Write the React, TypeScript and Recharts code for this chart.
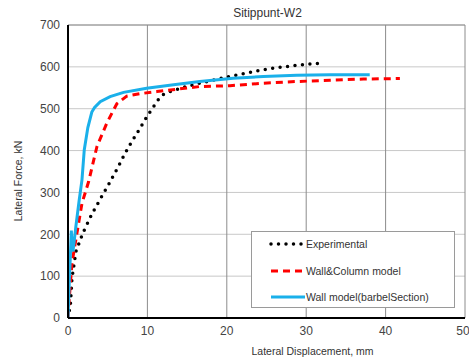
import { LineChart, Line, XAxis, YAxis, CartesianGrid, Label, ReferenceLine } from "recharts";

// displacement (mm) / lateral force (kN)
const experimental = [
  { x: 0, y: 0 }, { x: 0.3, y: 31 }, { x: 0.5, y: 95 }, { x: 1.0, y: 159 },
  { x: 1.9, y: 204 }, { x: 3.0, y: 248 }, { x: 4.3, y: 292 }, { x: 5.15, y: 320 },
  { x: 6.4, y: 364 }, { x: 7.2, y: 394 }, { x: 8.05, y: 422 }, { x: 9.0, y: 451 },
  { x: 9.9, y: 480 }, { x: 10.85, y: 507 }, { x: 11.35, y: 521 }, { x: 12.0, y: 534 },
  { x: 12.9, y: 541 }, { x: 14.75, y: 552 }, { x: 16.6, y: 561 }, { x: 18.5, y: 569 },
  { x: 20.3, y: 577 }, { x: 22.2, y: 584 }, { x: 24.2, y: 592 }, { x: 26.0, y: 597 },
  { x: 28.0, y: 602 }, { x: 30.0, y: 606 }, { x: 31.9, y: 609 },
];

const wallColumn = [
  { x: 0, y: 0 }, { x: 0.08, y: 27 }, { x: 0.5, y: 131 }, { x: 1.13, y: 203 },
  { x: 1.76, y: 274 }, { x: 2.6, y: 326 }, { x: 3.65, y: 410 }, { x: 4.9, y: 466 },
  { x: 6.15, y: 512 }, { x: 7.4, y: 530 }, { x: 9.1, y: 536 }, { x: 11.2, y: 541 },
  { x: 16.6, y: 553 }, { x: 20.4, y: 555 }, { x: 24.6, y: 561 }, { x: 28.8, y: 565 },
  { x: 33.0, y: 568 }, { x: 37.2, y: 571 }, { x: 41.8, y: 572 },
];

const wallBarbel = [
  { x: 0, y: 0 }, { x: 0.15, y: 80 }, { x: 0.3, y: 150 }, { x: 0.42, y: 209 },
  { x: 0.5, y: 175 }, { x: 0.63, y: 159 }, { x: 1.0, y: 220 }, { x: 1.4, y: 280 },
  { x: 1.76, y: 330 }, { x: 2.05, y: 402 }, { x: 2.5, y: 455 }, { x: 3.0, y: 492 },
  { x: 3.35, y: 503 }, { x: 4.06, y: 517 }, { x: 5.3, y: 529 }, { x: 7.0, y: 539 },
  { x: 9.9, y: 549 }, { x: 13.3, y: 557 }, { x: 16.6, y: 565 }, { x: 20.8, y: 573 },
  { x: 24.6, y: 577 }, { x: 28.8, y: 580 }, { x: 33.0, y: 581 }, { x: 38.0, y: 581 },
];

const xTicks = [0, 10, 20, 30, 40, 50];
const yTicks = [0, 100, 200, 300, 400, 500, 600, 700];

const series = [
  { name: "Experimental", data: experimental, color: "#000000", width: 3.5, dash: "0 7.5" },
  { name: "Wall&Column model", data: wallColumn, color: "#FF0000", width: 3, dash: "7 5" },
  { name: "Wall model(barbelSection)", data: wallBarbel, color: "#1AB0EA", width: 3, dash: undefined },
];

const font = "Arial, 'Liberation Sans', sans-serif";
const tick = { fill: "#444", fontSize: 12, fontFamily: font };

function LegendBox() {
  return (
    <div
      style={{
        position: "absolute",
        left: 251,
        top: 231,
        border: "1px solid #9a9a9a",
        background: "#fff",
        width: 204,
        height: 77,
        boxSizing: "border-box",
        fontFamily: font,
        fontSize: 10.5,
        color: "#333",
      }}
    >
      {series.map((s, i) => (
        <div
          key={s.name}
          style={{ position: "absolute", left: 17, top: 5 + i * 26.5, display: "flex", alignItems: "center", height: 14 }}
        >
          <svg width={37} height={8}>
            <line
              x1={2}
              y1={4}
              x2={36}
              y2={4}
              stroke={s.color}
              strokeWidth={s.width}
              strokeDasharray={s.dash}
              strokeLinecap={s.dash === "0 7.5" ? "round" : "butt"}
            />
          </svg>
          <span style={{ whiteSpace: "nowrap" }}>{s.name}</span>
        </div>
      ))}
    </div>
  );
}

export default function App() {
  return (
    <div style={{ position: "absolute", left: 0, top: 0, width: 469, height: 361, background: "#fff" }}>
      <LineChart width={469} height={361} margin={{ top: 25, right: 4, left: 0, bottom: 0 }}>
        <CartesianGrid horizontal={true} vertical={false} stroke="#c8c8c8" strokeWidth={1} />
        <CartesianGrid horizontal={false} vertical={true} stroke="#8c8c8c" strokeWidth={1} />
        <ReferenceLine y={700} stroke="#8c8c8c" strokeWidth={1} />
        <XAxis
          type="number"
          dataKey="x"
          domain={[0, 50]}
          ticks={xTicks}
          tick={tick}
          tickLine={false}
          axisLine={{ stroke: "#000", strokeWidth: 2 }}
          height={43}
          allowDataOverflow
        >
          <Label
            value="Lateral Displacement, mm"
            position="insideBottom"
            offset={6}
            dx={46}
            style={{ fontFamily: font, fontSize: 10.5, fill: "#333" }}
          />
        </XAxis>
        <YAxis
          type="number"
          dataKey="y"
          domain={[0, 700]}
          ticks={yTicks}
          tick={tick}
          tickLine={false}
          axisLine={{ stroke: "#000", strokeWidth: 2 }}
          width={68}
          allowDataOverflow
        >
          <Label
            content={() => (
              <text
                x={18}
                y={181}
                transform="rotate(-90 18 181)"
                textAnchor="middle"
                dominantBaseline="central"
                style={{ fontFamily: font, fontSize: 10.5, fill: "#333" }}
              >
                Lateral Force, kN
              </text>
            )}
          />
        </YAxis>
        {series.map((s) => (
          <Line
            key={s.name}
            name={s.name}
            data={s.data}
            dataKey="y"
            type="linear"
            stroke={s.color}
            strokeWidth={s.width}
            strokeDasharray={s.dash}
            strokeLinecap={s.dash === "0 7.5" ? "round" : "butt"}
            dot={false}
            activeDot={false}
            isAnimationActive={false}
          />
        ))}
      </LineChart>
      <div
        style={{
          position: "absolute",
          top: 6,
          left: 0,
          width: 535,
          textAlign: "center",
          fontFamily: font,
          fontSize: 12,
          color: "#333",
        }}
      >
        Sitippunt-W2
      </div>
      <LegendBox />
    </div>
  );
}
